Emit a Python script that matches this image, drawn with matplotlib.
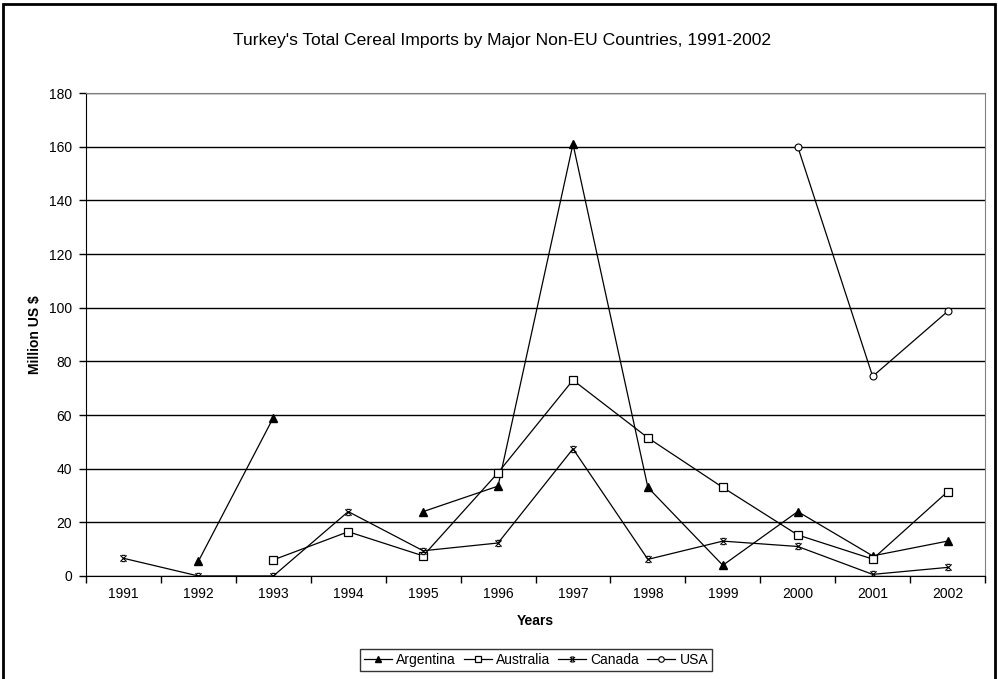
import numpy as np
import matplotlib
matplotlib.use('Agg')
import matplotlib.pyplot as plt
from matplotlib.path import Path
from matplotlib.patches import Rectangle

plt.rcParams['font.family'] = ['Liberation Sans', 'DejaVu Sans']

years = ['1991', '1992', '1993', '1994', '1995', '1996',
         '1997', '1998', '1999', '2000', '2001', '2002']
nan = np.nan
argentina = [nan, 5.5, 59, nan, 24, 33.5, 161, 33, 4, 24, 7.5, 13]
australia = [nan, nan, 6, 16.5, 7.5, 38.5, 73, 51.5, 33, 15.3, 6.3, 31.4]
canada = [6.6, 0, 0, 24, 9.4, 12.3, 47.4, 6.2, 13, 11, 0.6, 3.2]
usa = [nan, nan, nan, nan, nan, nan, nan, nan, nan, 160, 74.4, 98.6]

# excel-style star marker: an x with short bars on top and bottom
star = Path([(-1, -1), (1, 1), (-1, 1), (1, -1), (-0.6, 1), (0.6, 1), (-0.6, -1), (0.6, -1)],
            [Path.MOVETO, Path.LINETO, Path.MOVETO, Path.LINETO,
             Path.MOVETO, Path.LINETO, Path.MOVETO, Path.LINETO])

fig = plt.figure(figsize=(9.98, 6.79), dpi=100)
ax = fig.add_axes([0.0862, 0.1517, 0.9008, 0.7113])

x = np.arange(1, len(years) + 1)

def draw_series(vals, label, **kw):
    vals = np.array(vals, dtype=float)
    # Excel leaves gaps where data is missing
    ax.plot(x, vals, color='black', lw=0.9, label=label, **kw)

draw_series(argentina, 'Argentina', marker='^', ms=6, mfc='black', mec='black')
draw_series(australia, 'Australia', marker='s', ms=6, mfc='white', mec='black', mew=0.9)
draw_series(canada, 'Canada', marker=star, ms=4.5, mec='black', mew=0.8)
draw_series(usa, 'USA', marker='o', ms=5, mfc='white', mec='black', mew=0.8)

ax.set_xlim(0.5, 12.5)
ax.set_ylim(0, 180)
ax.set_yticks(np.arange(0, 181, 20))
ax.yaxis.grid(True, color='black', lw=1)
ax.set_axisbelow(True)

ax.set_xticks(np.arange(0.5, 12.6, 1))
ax.set_xticklabels([])
ax.set_xticks(x, minor=True)
ax.set_xticklabels(years, minor=True)
ax.tick_params(axis='x', which='major', length=5, width=1, direction='out')
ax.tick_params(axis='x', which='minor', length=0, pad=8, labelsize=10)
ax.tick_params(axis='y', length=5, width=1, labelsize=10, pad=5)

for s in ['top', 'right']:
    ax.spines[s].set_color('#808080')
for s in ['left', 'bottom']:
    ax.spines[s].set_color('black')

ax.set_xlabel('Years', fontsize=10, fontweight='bold', labelpad=9)
ax.set_ylabel('Million US $', fontsize=10, fontweight='bold', labelpad=5)
fig.text(0.503, 0.941, "Turkey's Total Cereal Imports by Major Non-EU Countries, 1991-2002",
         ha='center', va='center', fontsize=12.6)

leg = fig.legend(loc='center', bbox_to_anchor=(0.537, 0.028), ncol=4, fontsize=10,
                 frameon=True, fancybox=False, edgecolor='black', handlelength=2.0,
                 handletextpad=0.3, columnspacing=0.6, borderpad=0.3, markerscale=0.8)
leg.get_frame().set_linewidth(1)

# outer chart frame
fig.patches.append(Rectangle((3 / 998, -0.02), 992 / 998, 1 - 4 / 679 + 0.02,
                             transform=fig.transFigure, fill=False,
                             edgecolor='black', lw=2, clip_on=False))

fig.savefig('out.png', dpi=100)
